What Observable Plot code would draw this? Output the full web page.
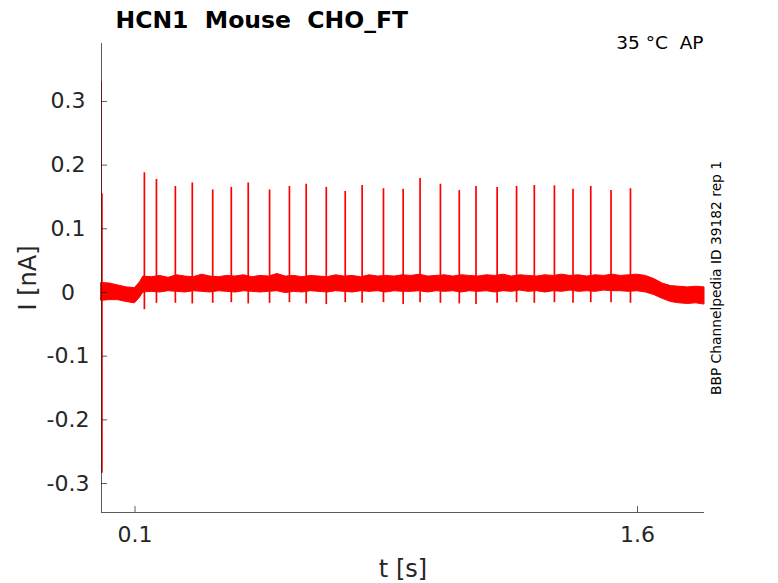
<!DOCTYPE html>
<html>
<head>
<meta charset="utf-8">
<script src="https://cdn.jsdelivr.net/npm/d3@7"></script>
<script src="https://cdn.jsdelivr.net/npm/@observablehq/plot@0.6"></script>
<style>
  html, body { margin: 0; padding: 0; background: #fff; }
  svg text { white-space: pre; }
</style>
</head>
<body>
<div id="chart"></div>
<script>
// ---- data ----
const title = "HCN1  Mouse  CHO_FT";
const condition = "35 °C  AP";
const sideNote = "BBP Channelpedia ID 39182 rep 1";
const xLabel = "t [s]";
const yLabel = "I [nA]";

const xDomain = [0, 1.8];
const yDomain = [-0.3455, 0.391];
const xTicks = [0.1, 1.6];
const yTicks = [-0.3, -0.2, -0.1, 0, 0.1, 0.2, 0.3];

// noise band of the trace (time in s, lower / upper edge in nA)
const envT = [0, 0.025, 0.05, 0.075, 0.1, 0.115, 0.125, 0.15, 0.175, 0.2, 0.225, 0.25, 0.275, 0.3, 0.325, 0.35, 0.375, 0.4, 0.425, 0.45, 0.475, 0.5, 0.525, 0.55, 0.575, 0.6, 0.625, 0.65, 0.675, 0.7, 0.725, 0.75, 0.775, 0.8, 0.825, 0.85, 0.875, 0.9, 0.925, 0.95, 0.975, 1.0, 1.025, 1.05, 1.075, 1.1, 1.125, 1.15, 1.175, 1.2, 1.225, 1.25, 1.275, 1.3, 1.325, 1.35, 1.375, 1.4, 1.425, 1.45, 1.475, 1.5, 1.525, 1.55, 1.575, 1.6, 1.625, 1.65, 1.675, 1.7, 1.725, 1.75, 1.775, 1.8];
const envHi = [0.015, 0.014, 0.011, 0.008, 0.007, 0.016, 0.025, 0.024, 0.026, 0.023, 0.027, 0.025, 0.024, 0.028, 0.025, 0.024, 0.026, 0.025, 0.027, 0.024, 0.026, 0.025, 0.029, 0.025, 0.026, 0.024, 0.026, 0.025, 0.024, 0.027, 0.025, 0.026, 0.024, 0.027, 0.025, 0.026, 0.025, 0.027, 0.026, 0.028, 0.025, 0.026, 0.027, 0.025, 0.027, 0.026, 0.025, 0.027, 0.026, 0.028, 0.025, 0.027, 0.026, 0.025, 0.027, 0.026, 0.028, 0.026, 0.027, 0.025, 0.027, 0.026, 0.028, 0.026, 0.027, 0.028, 0.026, 0.021, 0.014, 0.010, 0.009, 0.008, 0.009, 0.008];
const envLo = [-0.013, -0.012, -0.012, -0.015, -0.017, -0.008, 0.000, 0.001, 0.000, 0.002, 0.001, 0.000, 0.002, 0.001, 0.000, 0.002, 0.001, 0.000, 0.002, 0.001, 0.000, 0.001, 0.002, -0.001, 0.001, 0.000, 0.002, 0.001, 0.000, 0.002, 0.001, 0.000, 0.002, 0.001, 0.002, 0.000, 0.002, 0.001, 0.001, 0.002, 0.000, 0.002, 0.001, 0.002, 0.000, 0.002, 0.001, 0.002, 0.000, 0.002, 0.001, 0.003, 0.001, 0.002, 0.000, 0.002, 0.001, 0.003, 0.001, 0.002, 0.001, 0.003, 0.002, 0.002, 0.001, 0.002, 0.000, -0.004, -0.010, -0.015, -0.017, -0.018, -0.017, -0.019];

// action-potential current spikes (time, peak, following dip)
const spikeT = [0.128, 0.164, 0.2205, 0.271, 0.332, 0.3875, 0.438, 0.5017, 0.561, 0.611, 0.671, 0.7275, 0.778, 0.8417, 0.9005, 0.951, 1.0117, 1.068, 1.118, 1.181, 1.239, 1.292, 1.352, 1.4075, 1.4605, 1.521, 1.579];
const spikeTop = [0.188, 0.1775, 0.1665, 0.172, 0.161, 0.165, 0.172, 0.161, 0.1665, 0.170, 0.165, 0.1586, 0.168, 0.163, 0.162, 0.179, 0.170, 0.160, 0.1665, 0.165, 0.1665, 0.168, 0.1675, 0.162, 0.1665, 0.160, 0.163];
const spikeDip = [-0.027, -0.017, -0.017, -0.018, -0.017, -0.016, -0.018, -0.017, -0.016, -0.018, -0.019, -0.016, -0.017, -0.016, -0.019, -0.016, -0.017, -0.018, -0.019, -0.017, -0.016, -0.017, -0.016, -0.017, -0.016, -0.016, -0.017];

// capacitive transient at the start of the sweep
const transT = [0, 0.002];
const transLo = [-0.284, -0.284];
const transHi = [0.331, 0.155];
const transWidth = [1, 1.2];

// ---- tables for the marks ----
const band = envT.map((t, i) => ({t, lo: envLo[i], hi: envHi[i]}));
const spikes = spikeT.map((t, i) => ({t, top: spikeTop[i], dip: spikeDip[i]}));
const trans = transT.map((t, i) => ({t, lo: transLo[i], hi: transHi[i], w: transWidth[i]}));

const red = "#ff0000";
const axisColor = "#262626";

const chart = Plot.plot({
  width: 778,
  height: 583,
  marginLeft: 101,
  marginRight: 74,
  marginTop: 43,
  marginBottom: 71,
  x: {domain: xDomain},
  y: {domain: yDomain},
  style: {fontFamily: "DejaVu Sans", background: "#fff", overflow: "visible"},
  marks: [
    Plot.areaY(band, {x: "t", y1: "lo", y2: "hi", fill: red, stroke: red, strokeWidth: 1}),
    Plot.ruleX(spikes, {x: "t", y1: "dip", y2: "top", stroke: red, strokeWidth: 1.7}),
    Plot.ruleX(trans.slice(0, 1), {x: "t", y1: "lo", y2: "hi", stroke: red, strokeWidth: 1}),
    Plot.ruleX(trans.slice(1), {x: "t", y1: "lo", y2: "hi", stroke: red, strokeWidth: 1.2}),
    // spines
    Plot.ruleX([xDomain[0]], {stroke: axisColor, strokeOpacity: 0.75}),
    Plot.ruleY([yDomain[0]], {stroke: axisColor, strokeOpacity: 0.75}),
    // inward ticks
    Plot.axisY(yTicks, {tickSize: 6, dx: 6, fill: "none", stroke: axisColor, strokeOpacity: 0.75, label: null}),
    Plot.axisX(xTicks, {tickSize: 6, dy: -6, fill: "none", stroke: axisColor, strokeOpacity: 0.75, label: null}),
    // tick labels
    Plot.text(yTicks, {y: d => d, text: d => String(d), frameAnchor: "left", dx: -33.5, textAnchor: "middle", lineAnchor: "middle", fontSize: 22, fill: axisColor}),
    Plot.text(xTicks, {x: d => d, text: d => String(d), frameAnchor: "bottom", dy: 14, textAnchor: "middle", lineAnchor: "top", fontSize: 22, fill: axisColor}),
    // axis labels
    Plot.text([xLabel], {frameAnchor: "bottom", dy: 64, textAnchor: "middle", lineAnchor: "bottom", fontSize: 24, fill: axisColor}),
    Plot.text([yLabel], {frameAnchor: "left", dx: -73, rotate: -90, textAnchor: "middle", lineAnchor: "middle", fontSize: 24, fill: axisColor}),
    // title and annotations
    Plot.text([title], {frameAnchor: "top-left", dx: 14, dy: -16, textAnchor: "start", lineAnchor: "bottom", fontSize: 23.5, fontWeight: "bold", fill: "#000"}),
    Plot.text([condition], {frameAnchor: "top-right", dx: -1, dy: 5, textAnchor: "end", lineAnchor: "bottom", fontSize: 18.5, fill: "#000"}),
    Plot.text([sideNote], {frameAnchor: "right", dx: 12, rotate: -90, textAnchor: "middle", lineAnchor: "middle", fontSize: 13.8, fill: "#000"})
  ]
});
document.getElementById("chart").appendChild(chart);
</script>
</body>
</html>
